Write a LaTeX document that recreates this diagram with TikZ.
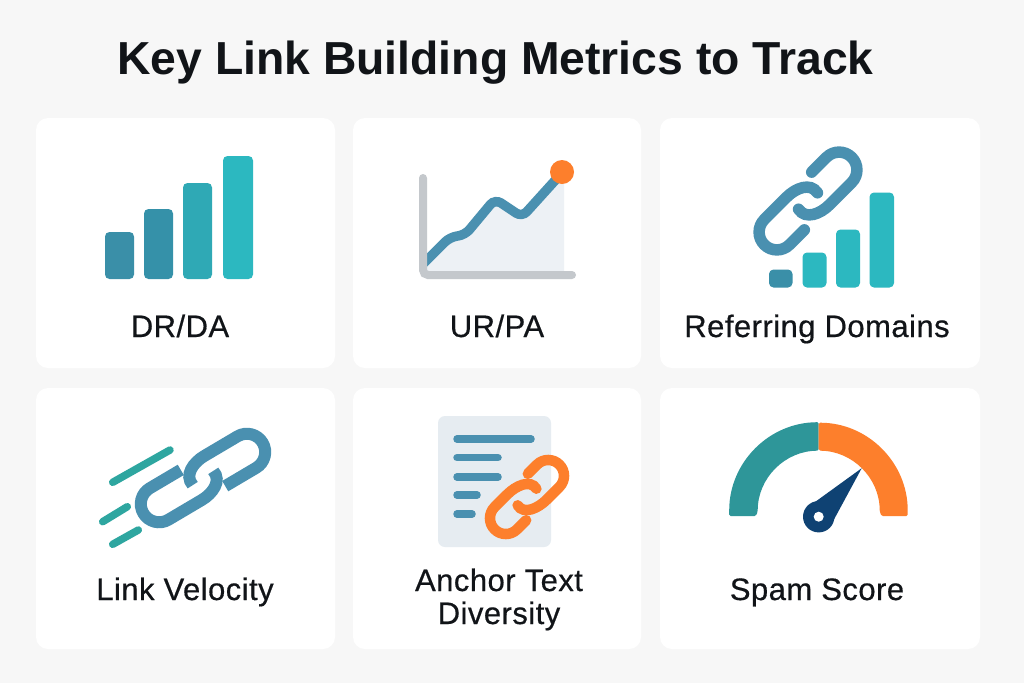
\documentclass[tikz,border=0pt]{standalone}
\usepackage{fontspec}
\setmainfont{Liberation Sans}
\newfontfamily\labelfont[LetterSpace=1.5,FakeBold=0.5]{Liberation Sans}
\definecolor{pagegrey}{HTML}{F7F7F7}
\definecolor{titleink}{HTML}{111418}
\definecolor{barone}{HTML}{3A8FA8}
\definecolor{bartwo}{HTML}{3591A9}
\definecolor{barthree}{HTML}{2FA9B5}
\definecolor{barfour}{HTML}{2CB8C0}
\definecolor{linkblue}{HTML}{4A90B0}
\definecolor{axisgrey}{HTML}{C4C8CC}
\definecolor{areagrey}{HTML}{EDF1F5}
\definecolor{dotorange}{HTML}{FD7F2C}
\definecolor{speedteal}{HTML}{2EA6A0}
\definecolor{sheetgrey}{HTML}{E6ECF1}
\definecolor{gaugeteal}{HTML}{2E9699}
\definecolor{needlenavy}{HTML}{0F4273}
\tikzset{
  card/.style={fill=white,rounded corners=12pt,inner sep=0pt},
  metriclabel/.style={text=titleink,align=center,anchor=base,font=\labelfont\fontsize{31}{33}\selectfont},
  metricbar/.style={rounded corners=4.5pt},
  linkstroke/.style={draw=linkblue,line width=11.5pt,line cap=round}
}
% centre, angle, half length, half height, free end
\newcommand{\chainlink}[6][]{
  \begin{scope}[shift={(#2)},rotate=#3,y=1pt,linkstroke,#1]
    \foreach \turn in {0,180}
      \draw[rotate=\turn] (#6,#5) -- (#4,#5) arc[start angle=90,end angle=-90,radius=#5pt] -- (12,-#5)
        .. controls (0,-#5) and (-15,-0.67*#5) .. (-12.5,0.05*#5);
  \end{scope}
}
\begin{document}
\begin{tikzpicture}[x=1pt,y=-1pt]
  \useasboundingbox (0,0) rectangle (1024,683);
  \fill[pagegrey] (0,0) rectangle (1024,683);
  \node[font=\bfseries\fontsize{46.3}{50}\selectfont,text=titleink] (heading) at (495.5,63) {Key Link Building Metrics to Track};

  \node[card,minimum width=299pt,minimum height=250pt] (carddr) at (185.5,243) {};
  \node[card,minimum width=288pt,minimum height=250pt] (cardur) at (497,243) {};
  \node[card,minimum width=320pt,minimum height=250pt] (cardref) at (820,243) {};
  \node[card,minimum width=299pt,minimum height=261pt] (cardvel) at (185.5,518.5) {};
  \node[card,minimum width=288pt,minimum height=261pt] (cardanc) at (497,518.5) {};
  \node[card,minimum width=320pt,minimum height=261pt] (cardspam) at (820,518.5) {};

  \node[metriclabel] (labeldr) at (180,337) {DR/DA};
  \node[metriclabel] (labelur) at (497,337) {UR/PA};
  \node[metriclabel] (labelref) at (817,337) {Referring Domains};
  \node[metriclabel] (labelvel) at (185,600) {Link Velocity};
  \node[metriclabel] (labelancone) at (499,591) {Anchor Text};
  \node[metriclabel] (labelanctwo) at (499,624) {Diversity};
  \node[metriclabel] (labelspam) at (817,600) {Spam Score};

  % DR/DA bars
  \fill[metricbar,barone] (105,232) rectangle (134,279);
  \fill[metricbar,bartwo] (144,209) rectangle (173,279);
  \fill[metricbar,barthree] (183,183) rectangle (212,279);
  \fill[metricbar,barfour] (223,156) rectangle (253,279);

  % UR/PA chart
  \fill[areagrey] (425,262) -- (450,237) -- (465,235) -- (495,201) -- (522,215) -- (564,172) -- (564,272) -- (425,272) -- cycle;
  \draw[linkblue,line width=9.5pt,rounded corners=7pt] (423,264) -- (450,237) -- (465,235) -- (495,199) -- (522,217) -- (560,175);
  \draw[axisgrey,line width=8pt,line cap=round,rounded corners=5pt] (423,178) -- (423,275) -- (572,275);
  \fill[dotorange] (562,172) circle (12pt);

  % referring domains
  \chainlink{808,201}{45}{44}{17.8}{23}
  \fill[metricbar,barone] (769,269.5) rectangle (792.5,287.5);
  \fill[metricbar,barfour] (802.5,252.5) rectangle (826.5,287.5);
  \fill[metricbar,barfour] (836,229.5) rectangle (860,287.5);
  \fill[metricbar,barfour] (869.5,192.5) rectangle (894,287.5);

  % link velocity
  \chainlink[yscale=-1,line cap=butt,line width=12pt]{203,478}{30.6}{51}{18.3}{15}
  \draw[speedteal,line width=7.5pt,line cap=round] (112.7,482.3) -- (170,450);
  \draw[speedteal,line width=7.5pt,line cap=round] (102.7,521.7) -- (127.3,506.7);
  \draw[speedteal,line width=7.5pt,line cap=round] (112.7,544.3) -- (138.3,530);

  % anchor text
  \fill[sheetgrey,rounded corners=7pt] (438,416) rectangle (551,547);
  \foreach \rowy/\rowend in {439/531,457.7/498,477/498,495/477,514/472}
    \draw[linkblue,line width=7.5pt,line cap=round] (457,\rowy) -- (\rowend,\rowy);
  \chainlink[draw=dotorange,line width=10.5pt]{527,497}{45}{30}{15.8}{17}

  % spam gauge
  \begin{scope}[shift={(818.7,511.7)},y=1pt]
    \fill[gaugeteal,rounded corners=1.5pt] (-89.5,-4.5) -- (-89.5,0) arc[start angle=180,end angle=90,radius=89.5pt]
      -- (0,61) arc[start angle=90,end angle=180,radius=61pt] -- (-63,-4.5) -- cycle;
    \fill[dotorange,rounded corners=1.5pt] (89,-4.5) -- (89,0) arc[start angle=0,end angle=90,radius=89pt]
      -- (0,61) arc[start angle=90,end angle=0,radius=61pt] -- (63,-4.5) -- cycle;
    \fill[needlenavy] (43,43.5) -- (-3.3,10) -- (15,-8.3) -- cycle;
    \fill[needlenavy] (0,-5) circle (15.7pt);
    \fill[white] (0,-5) circle (5pt);
  \end{scope}
\end{tikzpicture}
\end{document}
